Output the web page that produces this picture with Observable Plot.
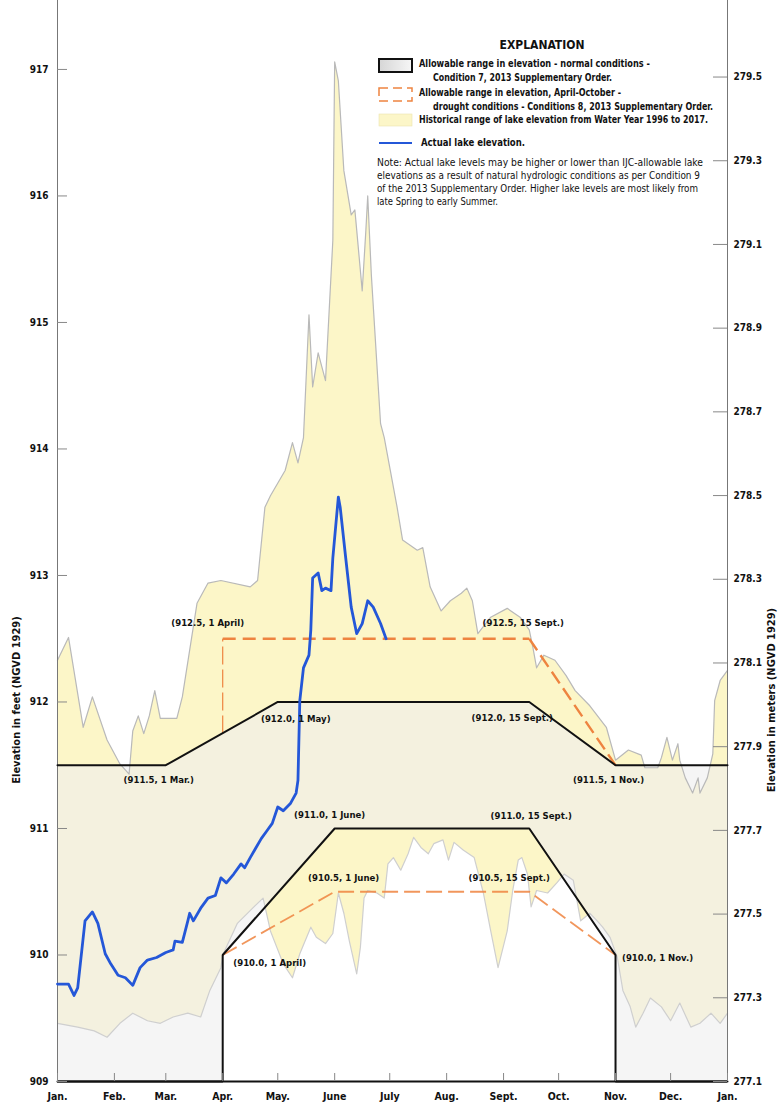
<!DOCTYPE html>
<html><head><meta charset="utf-8">
<script src="https://cdn.jsdelivr.net/npm/d3@7"></script>
<script src="https://cdn.jsdelivr.net/npm/@observablehq/plot@0.6"></script>
<style>
html,body{margin:0;padding:0;background:#fff;}
#chart{width:780px;height:1105px;overflow:hidden;}
</style></head><body><div id="chart"></div>
<script>
// ---------- data ----------
const histMaxDay = [0,6,14,19,27,34,39,41,44,47,50,53,56,65,68,76,82,89,105,109,113,116,124,128,131,134,137,139,142,146,150,151,153,156,160,162,164,166,168,169,171,176,178,185,188,196,199,203,209,214,220,223,226,229,236,245,252,257,259,261,265,271,277,282,290,299,304,311,318,320,327,329,332,335,338,339,342,346,349,350,354,357,358,361,365];
const histMaxFt = [912.33,912.51,911.80,912.04,911.70,911.51,911.43,911.77,911.89,911.75,911.89,912.09,911.87,911.87,912.04,912.78,912.94,912.96,912.91,912.96,913.54,913.63,913.83,914.05,913.89,914.09,915.06,914.49,914.76,914.54,915.65,917.06,916.91,916.20,915.85,915.89,915.57,915.25,915.73,916.00,915.37,914.20,914.09,913.54,913.28,913.20,913.22,912.91,912.72,912.80,912.86,912.90,912.80,912.54,912.67,912.74,912.67,912.57,912.43,912.27,912.37,912.33,912.21,912.09,911.97,911.80,911.54,911.62,911.58,911.48,911.48,911.56,911.72,911.54,911.67,911.54,911.40,911.28,911.40,911.28,911.40,911.59,912.01,912.17,912.25];
const histMinDay = [0,11,20,27,34,41,49,56,63,71,78,83,89,90,98,107,112,116,123,128,132,138,141,146,150,153,156,159,163,165,167,169,174,178,180,183,187,191,194,198,202,205,210,213,216,221,227,232,236,240,245,248,251,253,256,258,261,267,272,276,281,285,290,294,297,301,305,308,312,315,319,323,329,334,339,345,350,356,361,365];
const histMinFt = [909.46,909.43,909.40,909.35,909.46,909.54,909.48,909.46,909.51,909.54,909.51,909.72,909.90,910.00,910.25,910.38,910.45,910.19,909.93,909.82,910.01,910.22,910.14,910.09,910.17,910.49,910.33,910.11,909.85,910.06,910.45,910.51,910.49,910.45,910.72,910.77,910.67,910.80,910.93,910.85,910.80,910.88,910.91,910.75,910.89,910.83,910.77,910.49,910.19,909.90,910.19,910.51,910.75,910.77,910.64,910.38,910.51,910.49,910.57,910.64,910.59,910.27,910.33,910.27,910.22,910.14,909.98,909.72,909.59,909.43,909.54,909.66,909.59,909.48,909.62,909.43,909.46,909.54,909.46,909.54];
const actualDay = [0,6,9,11,15,19,22,26,29,33,37,41,45,49,54,59,63,64,68,71,72,74,78,82,86,89,92,96,100,102,105,111,114,117,120,123,127,130,131,132,134,137,138,139,142,144,146,149,150,153,154,157,160,163,166,169,172,176,179];
const actualFt = [909.77,909.77,909.68,909.74,910.27,910.34,910.25,910.01,909.93,909.84,909.82,909.76,909.90,909.96,909.98,910.02,910.04,910.11,910.10,910.27,910.33,910.27,910.37,910.45,910.47,910.61,910.57,910.64,910.72,910.69,910.77,910.92,910.98,911.04,911.17,911.14,911.20,911.28,911.38,912.01,912.27,912.37,912.57,912.98,913.02,912.88,912.90,912.88,913.14,913.62,913.54,913.14,912.75,912.54,912.62,912.80,912.75,912.62,912.50];

const normalUpperDate = ["2018-01-01","2018-03-01","2018-05-01","2018-09-15","2018-11-01","2019-01-01"];
const normalUpperFt = [911.5,911.5,912.0,912.0,911.5,911.5];
const normalLowerDate = ["2018-01-01","2018-04-01","2018-04-01","2018-06-01","2018-09-15","2018-11-01","2018-11-01","2019-01-01"];
const normalLowerFt = [909,909,910,911,911,910,909,909];

const droughtAprDate = ["2018-04-01","2018-04-01"];
const droughtAprFt = [911.75,912.5];
const droughtTopDate = ["2018-04-01","2018-09-15"];
const droughtTopFt = [912.5,912.5];
const droughtFallDate = ["2018-09-15","2018-11-01"];
const droughtFallFt = [912.5,911.5];
const droughtLowDate = ["2018-04-01","2018-06-01","2018-09-15","2018-11-01"];
const droughtLowFt = [910.0,910.5,910.5,910.0];

const annoDate = ["2018-03-01","2018-05-01","2018-04-01","2018-09-15","2018-09-15","2018-11-01","2018-06-01","2018-09-15","2018-06-01","2018-09-15","2018-04-01","2018-11-01"];
const annoFt = [911.5,912.0,912.5,912.5,912.0,911.5,911.0,911.0,910.5,910.5,910.0,910.0];
const annoText = ["(911.5, 1 Mar.)","(912.0, 1 May)","(912.5, 1 April)","(912.5, 15 Sept.)","(912.0, 15 Sept.)","(911.5, 1 Nov.)","(911.0, 1 June)","(911.0, 15 Sept.)","(910.5, 1 June)","(910.5, 15 Sept.)","(910.0, 1 April)","(910.0, 1 Nov.)"];

const monthDates = ["2018-01-01","2018-02-01","2018-03-01","2018-04-01","2018-05-01","2018-06-01","2018-07-01","2018-08-01","2018-09-01","2018-10-01","2018-11-01","2018-12-01","2019-01-01"];
const monthLabels = ["Jan.","Feb.","Mar.","Apr.","May.","June","July","Aug.","Sept.","Oct.","Nov.","Dec.","Jan."];
const feetTicks = [909,910,911,912,913,914,915,916,917];
const meterTicks = [277.1,277.3,277.5,277.7,277.9,278.1,278.3,278.5,278.7,278.9,279.1,279.3,279.5];

// ---------- layout / style ----------
const annoDx = [-7,18,-15,-6,-17,-7,-5,2,9,-20,47,42];
const annoDy = [15,17,-16,-16,16,15,-14,-13,-14,-14,8,3];
const FONT = '"Liberation Sans Narrow","DejaVu Sans Condensed","Arial Narrow","Liberation Sans",sans-serif';
const YELLOW = "#fcf6c8";
const ORANGE = "#ee8440";
const BLUE = "#2457d8";

const t0 = Date.UTC(2018,0,1);
const day = d => new Date(t0 + d*864e5);
const pd = s => new Date(s + "T00:00:00Z");
const pts = (ds, vs, f) => ds.map((d,i) => ({date: f(d), ft: vs[i]}));

const histMax = pts(histMaxDay, histMaxFt, day);
const histMin = pts(histMinDay, histMinFt, day);
const histPoly = [...histMax, ...histMin.slice().reverse()];
const actual = pts(actualDay, actualFt, day);
const normUp = pts(normalUpperDate, normalUpperFt, pd);
const normLo = pts(normalLowerDate, normalLowerFt, pd);
const normPoly = [...normUp, ...normLo.slice().reverse()];
const dApr = pts(droughtAprDate, droughtAprFt, pd);
const dTop = pts(droughtTopDate, droughtTopFt, pd);
const dFall = pts(droughtFallDate, droughtFallFt, pd);
const dLow = pts(droughtLowDate, droughtLowFt, pd);
const months = monthDates.map(pd);
const mToFt = d3.scaleLinear([277.1, 279.5], [909, 916.94]);
const meterFt = meterTicks.map(m => mToFt(m));

const xy = {x: "date", y: "ft"};
const annoMarks = annoText.map((t, i) => Plot.text([i], {
  x: i => pd(annoDate[i]), y: i => annoFt[i], text: i => annoText[i],
  dx: annoDx[i], dy: annoDy[i], fontSize: 9.5, fill: "#111"
}));

const plot = Plot.plot({
  width: 780, height: 1105,
  marginLeft: 57, marginRight: 53, marginTop: 0, marginBottom: 24,
  x: {type: "utc", domain: [day(0), day(365)]},
  y: {domain: [909, 917.545]},
  style: {fontFamily: FONT, fontWeight: "bold", fontSize: "10px", background: "#fff", color: "#111"},
  marks: [
    Plot.line(histPoly, {...xy, fill: YELLOW, stroke: "none", curve: "linear-closed"}),
    Plot.line(normPoly, {...xy, fill: "#efefef", fillOpacity: 0.6, stroke: "none", curve: "linear-closed"}),
    Plot.line(histMax, {...xy, stroke: "#b9b9b9", strokeWidth: 1.2}),
    Plot.line(histMin, {...xy, stroke: "#cfcfcf", strokeWidth: 1.2}),
    Plot.ruleX([day(0), day(365)], {stroke: "#777", strokeWidth: 1}),
    Plot.line(dApr, {...xy, stroke: ORANGE, strokeWidth: 1.2, strokeDasharray: "18,5", strokeLinecap: "butt"}),
    Plot.line(dTop, {...xy, stroke: ORANGE, strokeWidth: 2.4, strokeDasharray: "13,7", strokeLinecap: "butt"}),
    Plot.line(dFall, {...xy, stroke: ORANGE, strokeWidth: 2.4, strokeDasharray: "14,6", strokeLinecap: "butt"}),
    Plot.line(dLow, {...xy, stroke: ORANGE, strokeOpacity: 0.85, strokeWidth: 1.8, strokeDasharray: "16,6", strokeLinecap: "butt"}),
    Plot.line(normUp, {...xy, stroke: "#111", strokeWidth: 2, strokeLinejoin: "miter"}),
    Plot.line(normLo, {...xy, stroke: "#111", strokeWidth: 2, strokeLinejoin: "miter"}),
    Plot.ruleY([909], {stroke: "#111", strokeWidth: 2}),
    Plot.line(actual, {...xy, stroke: BLUE, strokeWidth: 2.8}),
    Plot.tickY(feetTicks, {y: d => d, insetRight: 660, stroke: "#888"}),
    Plot.tickY(meterFt, {y: d => d, insetLeft: 656, stroke: "#888"}),
    Plot.tickX(months, {x: d => d, insetTop: 1073, stroke: "#888"}),
    Plot.axisY({anchor: "left", ticks: feetTicks, tickSize: 0, tickPadding: 9, tickFormat: d => String(d), label: null, fontSize: 10}),
    Plot.axisY({anchor: "right", ticks: meterFt, tickSize: 0, tickPadding: 6, tickFormat: f => mToFt.invert(f).toFixed(1), label: null, fontSize: 10}),
    Plot.axisX({ticks: months, tickSize: 0, tickPadding: 11, tickFormat: d => monthLabels[months.findIndex(m => +m === +d)], label: null, fontSize: 10.5}),
    ...annoMarks
  ]
});
document.getElementById("chart").appendChild(plot);

// ---------- titles and explanation ----------
const svg = d3.select(plot);
const defs = svg.append("defs");
const gr = defs.append("linearGradient").attr("id", "normGrad").attr("x1", 0).attr("x2", 1).attr("y1", 0).attr("y2", 0);
gr.append("stop").attr("offset", "0%").attr("stop-color", "#d6d6d6");
gr.append("stop").attr("offset", "100%").attr("stop-color", "#f6f6f6");

const g = svg.append("g").attr("font-family", FONT).attr("font-weight", "bold").attr("fill", "#111").attr("font-size", 10).attr("text-anchor", "start");
g.append("text").attr("transform", "translate(17,700) rotate(-90)").attr("text-anchor", "middle").attr("dominant-baseline", "middle").attr("font-size", 11).text("Elevation in feet (NGVD 1929)");
g.append("text").attr("transform", "translate(772,700) rotate(-90)").attr("text-anchor", "middle").attr("dominant-baseline", "middle").attr("font-size", 11).text("Elevation in meters (NGVD 1929)");

g.append("text").attr("x", 542).attr("y", 45).attr("text-anchor", "middle").attr("dominant-baseline", "middle").attr("font-size", 12).text("EXPLANATION");
g.append("rect").attr("x", 379).attr("y", 59).attr("width", 33).attr("height", 13).attr("fill", "url(#normGrad)").attr("stroke", "#111").attr("stroke-width", 2);
g.append("rect").attr("x", 379).attr("y", 88).attr("width", 33).attr("height", 13).attr("fill", "#fff").attr("stroke", ORANGE).attr("stroke-width", 1.5).attr("stroke-dasharray", "9,5");
g.append("rect").attr("x", 379).attr("y", 114).attr("width", 33).attr("height", 12).attr("fill", YELLOW).attr("stroke", "#ece4b0").attr("stroke-width", 0.6);
g.append("line").attr("x1", 379).attr("x2", 412).attr("y1", 143).attr("y2", 143).attr("stroke", BLUE).attr("stroke-width", 2);

const legendLines = [
  [419, 64, 231, "Allowable range in elevation - normal conditions -", "bold"],
  [433, 78, 179, "Condition 7, 2013 Supplementary Order.", "bold"],
  [419, 93, 202, "Allowable range in elevation, April-October -", "bold"],
  [433, 107, 280, "drought conditions - Conditions 8, 2013 Supplementary Order.", "bold"],
  [419, 120, 289, "Historical range of lake elevation from Water Year 1996 to 2017.", "bold"],
  [421, 143, 104, "Actual lake elevation.", "bold"],
  [377, 163, 326, "Note: Actual lake levels may be higher or lower than IJC-allowable lake", "normal"],
  [377, 176, 323, "elevations as a result of natural hydrologic conditions as per Condition 9", "normal"],
  [377, 189, 321, "of the 2013 Supplementary Order. Higher lake levels are most likely from", "normal"],
  [377, 202, 121, "late Spring to early Summer.", "normal"]
];
legendLines.forEach(([x, y, w, t, fw]) => {
  g.append("text").attr("x", x).attr("y", y).attr("dominant-baseline", "middle").attr("text-anchor", "start")
    .attr("font-weight", fw).attr("textLength", w).attr("lengthAdjust", "spacingAndGlyphs").text(t);
});
</script></body></html>
